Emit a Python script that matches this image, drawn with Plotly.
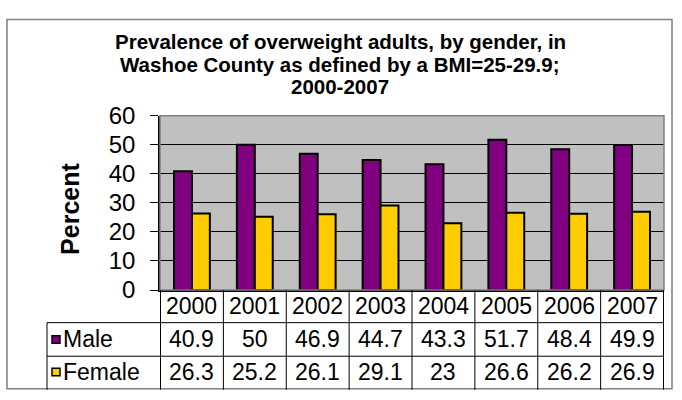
import plotly.graph_objects as go

W, H = 682, 400

years = ["2000", "2001", "2002", "2003", "2004", "2005", "2006", "2007"]
male = [40.9, 50, 46.9, 44.7, 43.3, 51.7, 48.4, 49.9]
female = [26.3, 25.2, 26.1, 29.1, 23, 26.6, 26.2, 26.9]
series_names = ["Male", "Female"]
series_colors = ["#800080", "#FFCC00"]
title_lines = [
    "Prevalence of overweight adults, by gender, in",
    "Washoe County as defined by a BMI=25-29.9;",
    "2000-2007",
]
y_title = "Percent"

FONT = "Liberation Sans, Arial, sans-serif"


def px(x):
    return x / W


def py(y):
    return 1 - y / H


# plot area in pixels
PL, PR, PT, PB = 160, 664, 109, 296
ROW1, ROW2, ROW3 = 331, 367, 403
LABEL_L = 47

fig = go.Figure()
for name, vals, col in zip(series_names, [male, female], series_colors):
    fig.add_trace(go.Bar(
        x=years, y=vals, name=name,
        marker=dict(color=col, line=dict(color="black", width=2)),
        hoverinfo="x+y+name",
    ))

shapes = []
annotations = []

# outer chart border
shapes.append(dict(type="rect", xref="paper", yref="paper",
                   x0=px(7), x1=px(672), y0=py(402), y1=py(6),
                   line=dict(color="#808080", width=1.5), layer="below"))
# plot area gray frame (top/right)
shapes.append(dict(type="rect", xref="paper", yref="paper",
                   x0=px(PL), x1=px(PR), y0=py(PB), y1=py(PT),
                   line=dict(color="#808080", width=1.5), layer="above"))

# table lines
n = len(years)
for i in range(n + 1):
    shapes.append(dict(type="line", xref="x", yref="paper",
                       x0=i - 0.5, x1=i - 0.5, y0=py(PB), y1=py(ROW3),
                       line=dict(color="black", width=1)))
shapes.append(dict(type="line", xref="paper", yref="paper",
                   x0=px(LABEL_L), x1=px(LABEL_L), y0=py(ROW1), y1=py(ROW3),
                   line=dict(color="black", width=1)))
for yy in [ROW1, ROW2]:
    shapes.append(dict(type="line", xref="paper", yref="paper",
                       x0=px(LABEL_L), x1=px(PR), y0=py(yy), y1=py(yy),
                       line=dict(color="black", width=1)))

TFS = 23
# header row
for i, yr in enumerate(years):
    annotations.append(dict(x=i, y=py((PB + ROW1) / 2), xref="x", yref="paper",
                            text=yr, showarrow=False, xanchor="center", yanchor="middle",
                            font=dict(family=FONT, size=TFS, color="black")))
rows_y = [(ROW1 + ROW2) / 2, (ROW2 + ROW3) / 2 - 1]
for r, (name, vals, col) in enumerate(zip(series_names, [male, female], series_colors)):
    yc = rows_y[r]
    for i, v in enumerate(vals):
        annotations.append(dict(x=i, y=py(yc), xref="x", yref="paper",
                                text=f"{v:g}", showarrow=False, xanchor="center", yanchor="middle",
                                font=dict(family=FONT, size=TFS, color="black")))
    annotations.append(dict(x=px(61), y=py(yc), xref="paper", yref="paper",
                            text=name, showarrow=False, xanchor="left", yanchor="middle",
                            font=dict(family=FONT, size=TFS, color="black")))
    shapes.append(dict(type="rect", xref="paper", yref="paper",
                       x0=px(52), x1=px(60), y0=py(yc + 4), y1=py(yc - 4),
                       fillcolor=col, line=dict(color="black", width=1.5)))

# title lines
for k, line in enumerate(title_lines):
    annotations.append(dict(x=px(340), y=py(30 + 24 * k), xref="paper", yref="paper",
                            text=f"<b>{line}</b>", showarrow=False,
                            xanchor="center", yanchor="middle",
                            font=dict(family=FONT, size=20.5, color="black")))

# y axis title
annotations.append(dict(x=px(70), y=py(209), xref="paper", yref="paper",
                        text=f"<b>{y_title}</b>", showarrow=False, textangle=-90,
                        xanchor="center", yanchor="middle",
                        font=dict(family=FONT, size=25, color="black")))

fig.update_layout(
    width=W, height=H,
    margin=dict(l=0, r=0, t=0, b=0),
    paper_bgcolor="white",
    plot_bgcolor="#C0C0C0",
    barmode="group",
    bargap=0.43,
    bargroupgap=0,
    showlegend=False,
    font=dict(family=FONT, size=24, color="black"),
    xaxis=dict(domain=[px(PL), px(PR)], showticklabels=False, ticks="",
               showline=True, linecolor="black", linewidth=1.5,
               showgrid=False, zeroline=False, fixedrange=True),
    yaxis=dict(domain=[py(PB), py(PT)], range=[0, 60], dtick=10,
               ticks="outside", ticklen=8, tickcolor="black", tickwidth=1,
               showline=True, linecolor="black", linewidth=1.5,
               showgrid=True, gridcolor="black", gridwidth=1,
               zeroline=False, ticklabelstandoff=10,
               tickfont=dict(family=FONT, size=24, color="black"),
               fixedrange=True),
    shapes=shapes,
    annotations=annotations,
)

fig.write_html("out.html", config={"displayModeBar": False},
               post_script="document.body.style.margin='0';document.body.style.overflow='hidden';")
